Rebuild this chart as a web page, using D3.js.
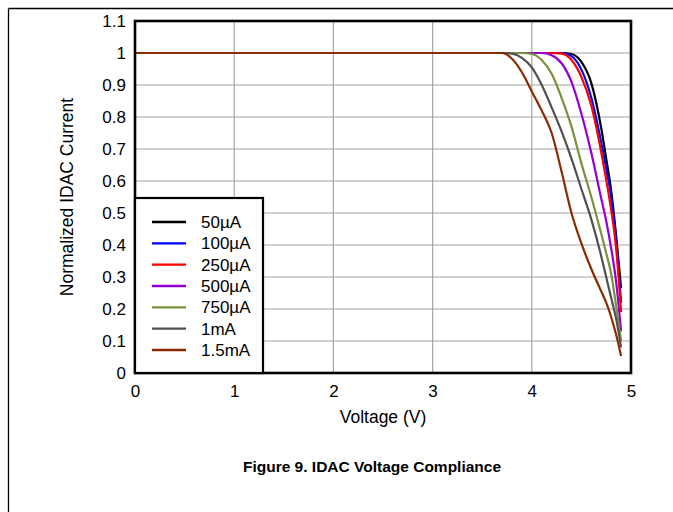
<!DOCTYPE html>
<html>
<head>
<meta charset="utf-8">
<script src="https://cdn.jsdelivr.net/npm/d3@7"></script>
<style>
  html, body { margin: 0; padding: 0; background: #fff; }
  svg { display: block; }
  text { font-family: "Liberation Sans", Arial, sans-serif; }
</style>
</head>
<body>
<svg id="chart" width="673" height="512"></svg>
<script>
// ---- data ----
const voltages = [0, 3.6, 3.7, 3.8, 3.9, 4.0, 4.1, 4.2, 4.3, 4.4, 4.5, 4.6, 4.7, 4.75, 4.8, 4.85, 4.9];
const seriesNames = ["50µA", "100µA", "250µA", "500µA", "750µA", "1mA", "1.5mA"];
const seriesColors = ["#000000", "#0000ff", "#ff0000", "#9400d3", "#76923c", "#505050", "#8b2a00"];
const i50uA   = [1, 1, 1, 1, 1, 1, 1, 1, 1, 0.997, 0.972, 0.906, 0.765, 0.67, 0.57, 0.43, 0.265];
const i100uA  = [1, 1, 1, 1, 1, 1, 1, 1, 1, 0.99, 0.948, 0.86, 0.72, 0.64, 0.55, 0.41, 0.22];
const i250uA  = [1, 1, 1, 1, 1, 1, 1, 1, 0.998, 0.978, 0.925, 0.835, 0.69, 0.604, 0.51, 0.39, 0.19];
const i500uA  = [1, 1, 1, 1, 1, 1, 1, 0.993, 0.968, 0.91, 0.81, 0.6875, 0.545, 0.475, 0.39, 0.285, 0.13];
const i750uA  = [1, 1, 1, 1, 1, 0.997, 0.978, 0.935, 0.86, 0.77, 0.655, 0.55, 0.435, 0.375, 0.31, 0.21, 0.10];
const i1mA    = [1, 1, 1, 0.998, 0.985, 0.955, 0.90, 0.83, 0.755, 0.67, 0.575, 0.48, 0.365, 0.30, 0.235, 0.17, 0.08];
const i1p5mA  = [1, 1, 1, 0.982, 0.94, 0.88, 0.82, 0.75, 0.63, 0.50, 0.405, 0.325, 0.255, 0.22, 0.175, 0.12, 0.053];
const seriesValues = [i50uA, i100uA, i250uA, i500uA, i750uA, i1mA, i1p5mA];
const xTicks = [0, 1, 2, 3, 4, 5];
const yTicks = [0, 0.1, 0.2, 0.3, 0.4, 0.5, 0.6, 0.7, 0.8, 0.9, 1, 1.1];
const xLabel = "Voltage (V)";
const yLabel = "Normalized IDAC Current";
const title = "Figure 9. IDAC Voltage Compliance";

// ---- layout ----
const svg = d3.select("#chart");
const L = 135, R = 631, T = 21, B = 373;
const FS = 17;
const x = d3.scaleLinear().domain([0, 5]).range([L, R]);
const y = d3.scaleLinear().domain([0, 1.1]).range([B, T]);

// page frame lines
svg.append("line").attr("x1", 8.5).attr("x2", 673).attr("y1", 8.5).attr("y2", 8.5)
  .attr("stroke", "#000").attr("stroke-width", 1.3);
svg.append("line").attr("x1", 8.5).attr("x2", 8.5).attr("y1", 8.5).attr("y2", 512)
  .attr("stroke", "#000").attr("stroke-width", 1.3);

// grid
const grid = svg.append("g");
grid.selectAll("line.v").data(xTicks).join("line")
  .attr("x1", d => x(d)).attr("x2", d => x(d)).attr("y1", T).attr("y2", B)
  .attr("stroke", "#a6a6a6").attr("stroke-width", 1.2);
grid.selectAll("line.h").data(yTicks).join("line")
  .attr("x1", L).attr("x2", R).attr("y1", d => y(d)).attr("y2", d => y(d))
  .attr("stroke", "#a6a6a6").attr("stroke-width", 1.2);

// axes (labels only)
const xAxis = d3.axisBottom(x).tickValues(xTicks).tickSize(0).tickPadding(12).tickFormat(d3.format("d"));
const gx = svg.append("g").attr("transform", `translate(0,${B})`).call(xAxis);
gx.select(".domain").remove();
gx.selectAll("text").attr("font-size", FS).attr("fill", "#000")
  .attr("font-family", "'Liberation Sans', Arial, sans-serif");

const yAxis = d3.axisLeft(y).tickValues(yTicks).tickSize(0).tickPadding(9)
  .tickFormat(d => d === 0 ? "0" : d3.format("~g")(d));
const gy = svg.append("g").attr("transform", `translate(${L},0)`).call(yAxis);
gy.select(".domain").remove();
gy.selectAll("text").attr("font-size", FS).attr("fill", "#000")
  .attr("font-family", "'Liberation Sans', Arial, sans-serif");

// curves
const line = d3.line()
  .x((d, i) => x(voltages[i]))
  .y(d => y(d))
  .curve(d3.curveMonotoneX);
svg.append("g").selectAll("path").data(seriesValues).join("path")
  .attr("d", d => line(d))
  .attr("fill", "none")
  .attr("stroke", (d, i) => seriesColors[i])
  .attr("stroke-width", 2.2)
  .attr("stroke-linejoin", "round");

// plot border
svg.append("rect").attr("x", L).attr("y", T).attr("width", R - L).attr("height", B - T)
  .attr("fill", "none").attr("stroke", "#000").attr("stroke-width", 2.6);

// legend
const lg = svg.append("g");
lg.append("rect").attr("x", L).attr("y", 198).attr("width", 128).attr("height", B - 198)
  .attr("fill", "#fff").attr("stroke", "#000").attr("stroke-width", 2.2);
const rowY = d3.scalePoint().domain(seriesNames).range([222, 350]);
seriesNames.forEach((n, i) => {
  lg.append("line").attr("x1", 152).attr("x2", 186).attr("y1", rowY(n)).attr("y2", rowY(n))
    .attr("stroke", seriesColors[i]).attr("stroke-width", 2.4);
  lg.append("text").attr("x", 201).attr("y", rowY(n)).attr("dy", "0.36em")
    .attr("font-size", FS).text(n);
});

// axis titles
svg.append("text").attr("x", 383).attr("y", 423).attr("text-anchor", "middle")
  .attr("font-size", 17.5).text(xLabel);
svg.append("text").attr("transform", `translate(73,${(T + B) / 2}) rotate(-90)`)
  .attr("text-anchor", "middle").attr("font-size", 17.5).text(yLabel);

// figure title
svg.append("text").attr("x", 372).attr("y", 472).attr("text-anchor", "middle")
  .attr("font-size", 15.5).attr("font-weight", "bold").text(title);
</script>
</body>
</html>
